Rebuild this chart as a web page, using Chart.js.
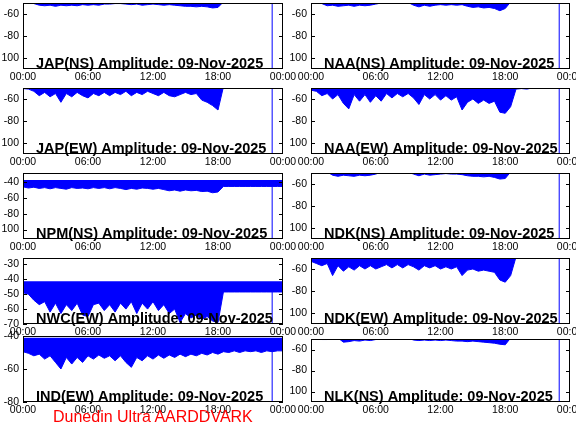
<!DOCTYPE html>
<html>
<head>
<meta charset="utf-8">
<script src="https://cdn.jsdelivr.net/npm/chart.js@4"></script>
<style>
html, body { margin: 0; padding: 0; background: #fff; }
#wrap { position: relative; width: 576px; height: 432px; overflow: hidden; }
#wrap canvas { position: absolute; left: 0; top: 0; }
#credit { position: absolute; left: 53px; top: 409px; z-index: 5; color: #f00; white-space: nowrap;
  font: 16px 'Liberation Sans', Arial, sans-serif; line-height: 16px; }
</style>
</head>
<body>
<div id="wrap"><div id="credit">Dunedin Ultra AARDDVARK</div></div>
<script>
// panels in reading order: left column, right column, row by row
var stations = ['JAP(NS)', 'NAA(NS)', 'JAP(EW)', 'NAA(EW)', 'NPM(NS)', 'NDK(NS)', 'NWC(EW)', 'NDK(EW)', 'IND(EW)', 'NLK(NS)'];
var dateLabel = '09-Nov-2025';

var hourTicks = [0, 6, 12, 18, 24];
var hourLabels = ['00:00', '06:00', '12:00', '18:00', '00:00'];
var gapHour = 23;

var yMin = [-110, -110, -110, -110, -112, -110, -70, -110, -80, -110];
var yMax = [-50, -50, -50, -50, -28.5, -50, -25.7, -50, -40, -50];
var yTicks = [
    [-100, -80, -60], [-100, -80, -60], [-100, -80, -60], [-100, -80, -60],
    [-100, -80, -60, -40], [-100, -80, -60],
    [-70, -60, -50, -40, -30], [-100, -80, -60],
    [-80, -60, -40], [-100, -80, -60]
];

// top of the signal band (dB); above the axis max means it runs off the top
var upperEdge = [-40, -40, -40, -40, -37.5, -40, -41.3, -40, -41, -40];

// lower envelope of the amplitude, one value every 30 min from 00:00
var japNS = [-49, -49, -50.5, -52, -52.5, -52, -53, -52, -52.5, -52, -52.5, -51.5, -52, -51.5, -52, -51,
    -51, -50.5, -50.5, -51, -51.5, -51, -52, -51.5, -51, -51.5, -52, -51.5, -52, -52.5, -53, -53,
    -53.5, -53, -53.5, -54.5, -54, -49, -49, -49, -49, -49, -49, -49, -49, -49, -49, -49];
var naaNS = [-49, -49, -50.5, -52.5, -52, -53, -52.5, -52, -53, -52, -52.5, -52, -51, -50, -49.5, -50,
    -49.5, -50, -49.5, -52, -53.5, -52, -53, -52, -51.5, -52, -51.5, -52, -51.5, -53, -54, -53.5,
    -54.5, -54, -55, -57, -55, -49, -49, -49, -49, -49, -49, -49, -49, -49, -49, -49];
var japEW = [-50.5, -51, -53, -57, -54, -58, -55, -63, -55, -58, -54, -57, -59, -55, -57, -54,
    -57, -54, -56, -53, -57, -54, -56, -53, -55, -57, -54, -57, -58, -56, -54, -56,
    -55, -61, -63, -66, -70, -49, -49, -49, -49, -49, -49, -49, -49, -49, -49, -49];
var naaEW = [-52, -53, -57, -55, -60, -56, -64, -69, -56, -62, -56, -63, -57, -62, -55, -59,
    -55, -58, -55, -59, -65, -56, -60, -56, -61, -57, -61, -58, -70, -63, -60, -64,
    -61, -64, -62, -72, -73, -67, -51, -50.5, -51, -50, -49, -49, -49, -49, -49, -49];
var npmNS = [-46, -47.5, -46.5, -48, -47, -48.5, -47, -48, -49, -47, -48, -47.5, -48.5, -47, -48, -47,
    -48.5, -47, -48, -49.5, -48, -49, -47.5, -48, -49, -48, -49.5, -51, -50, -51.5, -50, -51,
    -50.5, -52, -51.5, -53.5, -52.5, -45.5, -45.5, -45.5, -45.5, -45.5, -45.5, -45.5, -45.5, -45.5, -45.5, -45.5];
var ndkNS = [-49, -49, -49, -49, -52, -53, -52, -52.5, -53, -52, -52.5, -52, -51, -49, -49, -49,
    -49, -49, -49, -51, -52.5, -51, -52, -51.5, -51, -50.5, -51, -51, -51.5, -52.5, -53, -53,
    -53.5, -53, -54, -55.5, -55, -49, -49, -49, -49, -49, -49, -49, -49, -49, -49, -49];
var nwcEW = [-49, -50, -54, -57, -55, -62, -56, -63, -57, -61, -56, -64, -65, -57, -56, -61,
    -57, -62, -56, -60, -55, -63, -56, -60, -55, -61, -57, -63, -60, -69, -63, -66,
    -64, -67, -65, -68, -69, -48.5, -48.5, -48.5, -48.5, -48.5, -48.5, -48.5, -48.5, -48.5, -48.5, -48.5];
var ndkEW = [-53, -55, -57, -55, -66, -57, -62, -58, -61, -57, -60, -57, -60, -58, -56, -59,
    -56, -59, -56, -58, -61, -57, -59, -57, -60, -58, -60, -58, -66, -61, -60, -62,
    -61, -62, -63, -70, -72, -66, -49, -49, -49, -49, -49, -49, -49, -49, -49, -49];
var indEW = [-49.5, -50.5, -52, -51, -54, -52, -56, -60, -53, -57, -53, -56, -52, -54, -51.5, -53.5,
    -52, -55, -52, -56, -59, -53, -55, -52, -54, -51.5, -53.5, -51.5, -53, -51, -52.5, -51,
    -52, -50.5, -51.5, -50, -51, -49.5, -50, -49, -50, -49, -49.5, -49, -50, -49, -49.5, -49];
var nlkNS = [-49, -49, -50.5, -50.5, -49, -49, -53, -52.5, -51.5, -52, -51, -51.5, -50.5, -49, -49, -49,
    -49, -49, -49, -51, -51.5, -51, -51.5, -51, -51.5, -51, -51.5, -52, -52, -52.5, -52, -52.5,
    -53, -53.5, -54, -55, -55.5, -49, -49, -49, -49, -49, -49, -49, -49, -49, -49, -49];

var lows = [japNS, naaNS, japEW, naaEW, npmNS, ndkNS, nwcEW, ndkEW, indEW, nlkNS];

// plot boxes [left, top, right, bottom] in page pixels
var boxes = [
    [23, 3, 283, 69], [311, 3, 570, 69],
    [23, 88, 283, 154], [311, 88, 570, 154],
    [23, 173, 283, 239], [311, 173, 570, 239],
    [23, 258, 283, 324], [311, 258, 570, 324],
    [23, 336, 283, 402], [311, 339, 570, 402]
];
var W = 576, H = 432, yW = 22, xH = 16;
var blue = 'rgb(0, 0, 255)';
var tickFont = { family: "'Liberation Sans Narrow', 'Liberation Sans', Arial, sans-serif", size: 10.5 };

function toPoints(arr) {
    var step = 24 / arr.length;
    var pts = arr.map(function (v, i) { return { x: i * step, y: v }; });
    pts.push({ x: 24, y: arr[arr.length - 1] });
    return pts;
}

// black frame, inner y ticks and the station title inside the plot
var framePlugin = {
    id: 'frame',
    afterDatasetsDraw: function (chart, args, opts) {
        var a = chart.chartArea, ctx = chart.ctx, ys = chart.scales.y;
        ctx.save();
        ctx.strokeStyle = '#000';
        ctx.lineWidth = 1;
        ctx.strokeRect(a.left + 0.5, a.top + 0.5, a.right - a.left - 1, a.bottom - a.top - 1);
        ys.ticks.forEach(function (t) {
            var y = Math.round(ys.getPixelForValue(t.value)) + 0.5;
            ctx.beginPath();
            ctx.moveTo(a.left, y); ctx.lineTo(a.left + 4, y);
            ctx.moveTo(a.right - 4, y); ctx.lineTo(a.right, y);
            ctx.stroke();
        });
        ctx.fillStyle = '#000';
        ctx.font = "bold 14.5px 'Liberation Sans', Arial, sans-serif";
        ctx.textAlign = 'left';
        ctx.textBaseline = 'alphabetic';
        ctx.fillText(opts.text, a.left + 13, a.bottom - 1);
        ctx.restore();
    }
};

var wrap = document.getElementById('wrap');

stations.forEach(function (name, i) {
    var b = boxes[i];
    var cv = document.createElement('canvas');
    cv.width = W; cv.height = H;
    wrap.insertBefore(cv, wrap.firstChild);

    new Chart(cv.getContext('2d'), {
        type: 'line',
        data: {
            datasets: [{
                data: toPoints(lows[i]),
                borderColor: blue,
                backgroundColor: blue,
                borderWidth: 1,
                pointRadius: 0,
                fill: { value: upperEdge[i] }
            }, {
                data: [{ x: gapHour, y: -200 }, { x: gapHour, y: -45 }],
                borderColor: blue,
                borderWidth: 1,
                pointRadius: 0,
                fill: false
            }]
        },
        options: {
            responsive: false,
            devicePixelRatio: 1,
            animation: false,
            events: [],
            layout: { padding: { left: b[0] - yW, top: b[1], right: W - b[2], bottom: H - b[3] - xH } },
            plugins: {
                legend: { display: false },
                tooltip: { enabled: false },
                frame: { text: name + ' Amplitude: ' + dateLabel }
            },
            scales: {
                x: {
                    type: 'linear', min: 0, max: 24,
                    grid: { display: false, drawTicks: false }, border: { display: false },
                    afterBuildTicks: function (s) { s.ticks = hourTicks.map(function (v) { return { value: v }; }); },
                    afterFit: function (s) { s.height = xH; s.paddingLeft = 0; s.paddingRight = 0; },
                    ticks: {
                        autoSkip: false, maxRotation: 0, minRotation: 0, padding: 2,
                        color: '#000', font: tickFont,
                        callback: function (v, idx) { return hourLabels[idx]; }
                    }
                },
                y: {
                    min: yMin[i], max: yMax[i],
                    grid: { display: false, drawTicks: false }, border: { display: false },
                    afterBuildTicks: function (s) { s.ticks = yTicks[i].map(function (v) { return { value: v }; }); },
                    afterFit: function (s) { s.width = yW; s.paddingTop = 0; s.paddingBottom = 0; },
                    ticks: { padding: 4, color: '#000', font: tickFont }
                }
            }
        },
        plugins: [framePlugin]
    });
});
</script>
</body>
</html>
